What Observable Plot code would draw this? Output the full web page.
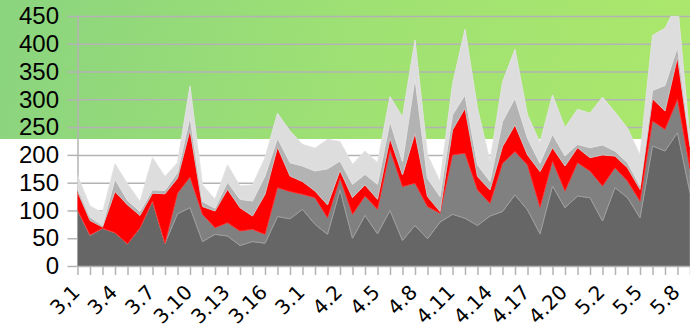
<!DOCTYPE html>
<html>
<head>
<meta charset="utf-8">
<script src="https://cdn.jsdelivr.net/npm/d3@7"></script>
<script src="https://cdn.jsdelivr.net/npm/@observablehq/plot@0.6"></script>
<style>
  html, body { margin: 0; padding: 0; background: #fff; }
  #chart {
    width: 690px; height: 334px; overflow: hidden;
    background:
      linear-gradient(to bottom, rgba(255,255,255,0) 139px, #ffffff 139px),
      linear-gradient(100deg, #8bd47f 0%, #9fe173 50%, #ade86b 100%);
  }
  #chart svg { display: block; }
</style>
</head>
<body>
<div id="chart"></div>
<script>
// Axis tick labels, one for every third day
const xLabels = ["3,1","3.4","3.7","3.10","3.13","3.16","3.1","4.2","4.5","4.8","4.11","4.14","4.17","4.20","5.2","5.5","5.8"];
const yTicks = [0, 50, 100, 150, 200, 250, 300, 350, 400, 450];

// Daily counts per layer, stacked bottom to top
const layer1 = [101,55,68,60,40,69,117,41,94,105,44,57,54,37,44,41,89,85,102,75,57,137,50,91,58,100,46,73,49,79,93,86,73,90,98,128,101,58,144,105,126,123,81,141,123,87,216,207,240,132];
const layer2 = [0,1,0,0,0,0,0,0,37,55,49,12,24,26,22,16,52,49,27,48,30,21,43,35,44,109,97,76,58,16,107,117,64,23,87,78,81,48,45,30,60,48,63,36,30,30,45,39,60,43];
const layer3 = [33,26,2,74,70,22,14,89,27,85,14,30,60,42,24,72,73,28,23,12,23,14,30,20,18,21,21,90,18,3,45,81,24,24,30,48,18,64,24,45,27,24,56,21,24,21,40,33,76,40];
const layer4 = [6,6,3,22,8,7,6,6,10,23,9,5,13,15,27,33,16,24,28,36,65,17,24,19,27,30,24,99,33,27,27,24,21,15,45,48,30,15,24,18,6,18,18,9,9,6,15,46,18,7];
const layer5 = [23,20,23,28,30,18,58,25,18,56,30,16,31,24,29,33,45,57,39,41,53,35,36,42,39,45,80,69,42,27,55,118,102,36,71,88,42,37,71,51,63,62,86,70,62,56,99,103,78,6];

const seriesNames = ["layer1", "layer2", "layer3", "layer4", "layer5"];
const seriesValues = [layer1, layer2, layer3, layer4, layer5];

const fills   = {layer1: "#666666", layer2: "#808080", layer3: "#ff0000", layer4: "#b3b3b3", layer5: "#dddddd"};
const strokes = {layer1: "#8f8f8f", layer2: "#9e9e9e", layer3: "#ff2a2a", layer4: "#c4c4c4", layer5: "#e2e2e2"};

// Long-format table for the stacked area
const rows = [];
seriesNames.forEach((name, s) => {
  seriesValues[s].forEach((v, i) => rows.push({i, series: name, value: v}));
});
const labelRows = xLabels.map((t, k) => ({i: 3 * k, t}));
const dayIndex = d3.range(layer1.length);

const chart = Plot.plot({
  width: 690,
  height: 334,
  marginLeft: 77.5,
  marginRight: 0,
  marginTop: 16,
  marginBottom: 68,
  style: {background: "transparent", color: "black", overflow: "visible"},
  x: {domain: [0, layer1.length - 1], axis: null},
  y: {domain: [0, 450], axis: null},
  color: {type: "identity"},
  marks: [
    Plot.gridY(yTicks, {stroke: "#b3b3b3", strokeOpacity: 1, strokeWidth: 1.5}),
    Plot.ruleX([0], {stroke: "#b3b3b3", strokeWidth: 1.5}),
    Plot.areaY(rows, {
      x: "i", y: "value", z: "series",
      fill: d => fills[d.series],
      stroke: d => strokes[d.series],
      strokeWidth: 1,
      clip: true
    }),
    Plot.axisY(yTicks, {
      tickSize: 10, tickPadding: 9, stroke: "#b3b3b3", strokeWidth: 1.5,
      fontSize: 24, fontFamily: "Liberation Sans, Arial, sans-serif", label: null
    }),
    Plot.axisX(dayIndex, {
      tickSize: 9, stroke: "#b3b3b3", strokeWidth: 1.5, tickFormat: () => "", label: null
    }),
    Plot.text(labelRows, {
      x: "i", frameAnchor: "bottom", text: "t",
      rotate: -45, textAnchor: "end", dx: 3, dy: 27,
      fontSize: 20, fontFamily: "DejaVu Sans, sans-serif", fill: "black"
    })
  ]
});

document.getElementById("chart").appendChild(chart);
</script>
</body>
</html>
